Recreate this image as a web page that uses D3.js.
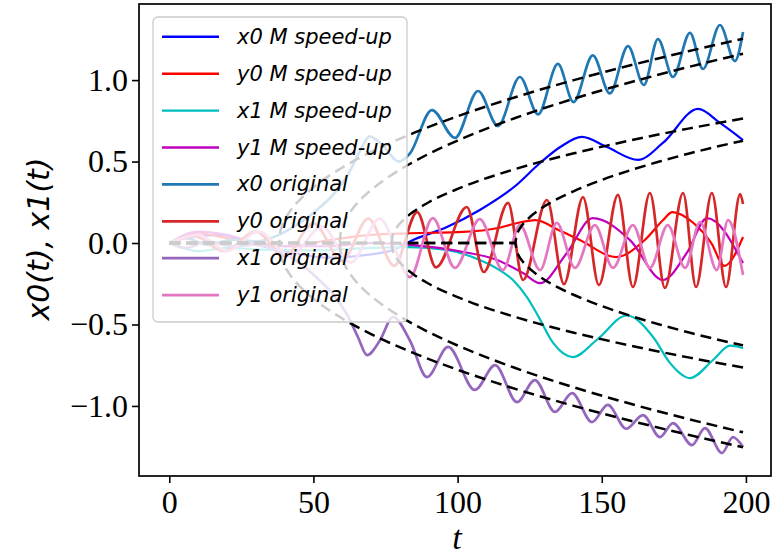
<!DOCTYPE html>
<html>
<head>
<meta charset="utf-8">
<script src="https://cdn.jsdelivr.net/npm/d3@7"></script>
<style>
  body { margin: 0; background: #fff; }
</style>
</head>
<body>
<script>
// values as [t, value] pairs (extrema + a few in-between points)
const x0Speed = [[0,0],[8,0.04],[18,0.05],[28,0.0],[40,-0.05],[55,-0.09],[70,-0.07],[78,-0.04],[83.5,0.01],[96.3,0.098],[107.7,0.203],[120,0.35],[128.6,0.491],[135.6,0.589],[143.1,0.651],[151.8,0.589],[162.6,0.51],[171.2,0.614],[183.4,0.823],[191,0.737],[199,0.632]]
const y0Speed = [[0,0],[10,0.06],[20,0.03],[30,0],[42,-0.02],[56,0.02],[70,0.05],[83.5,0.06],[102,0.068],[114,0.092],[120,0.12],[127,0.14],[135,0.08],[142.4,0.018],[155,-0.086],[165,0.02],[171.2,0.14],[174.5,0.19],[182,0.12],[188,0.0],[192.5,-0.14],[199,0.037]]
const x1Speed = [[0,0],[10,-0.05],[20,-0.03],[32,-0.04],[50,-0.045],[70,-0.03],[83.5,-0.025],[96.3,-0.043],[107.7,-0.104],[114,-0.16],[119.2,-0.227],[124,-0.33],[128,-0.45],[133,-0.61],[140,-0.70],[148.3,-0.595],[158.7,-0.445],[167.8,-0.577],[173.7,-0.737],[180.6,-0.829],[188.6,-0.718],[194.5,-0.63],[199,-0.645]]
const y1Speed = [[0,0],[10,0.07],[20,0.05],[35,-0.02],[55,-0.02],[70,0.0],[83.5,-0.012],[102,-0.055],[113.7,-0.104],[122.7,-0.184],[128.6,-0.246],[137.9,-0.061],[146.9,0.153],[159.8,0.018],[171.2,-0.227],[179.5,-0.061],[186.5,0.153],[199,-0.123]]

const x0Orig = [[0,0],[6,0.03],[13,-0.01],[22,0.02],[30,0.01],[38,0.05],[45,0.12],[51,0.2],[57,0.3],[62,0.42],[66,0.56],[69.5,0.655],[74,0.6],[79.5,0.5],[83.5,0.55],[91.1,0.816],[99.1,0.645],[107.1,0.933],[114,0.718],[121.6,1.019],[127.9,0.79],[134.8,1.099],[140.2,0.865],[146.9,1.152],[152.8,0.918],[159.1,1.209],[164.6,0.97],[169.5,1.252],[174.7,1.019],[180.6,1.29],[185.1,1.068],[191,1.338],[196.2,1.117],[199,1.295]]
const y0Orig = [[0,0],[9,0.04],[19,-0.05],[30,0.07],[40,-0.08],[50,0.12],[60,-0.11],[69,0.15],[78,-0.14],[86,0.19],[92.5,-0.15],[103.2,0.221],[109.1,-0.178],[117.5,0.246],[122.7,-0.227],[131,0.264],[136.9,-0.252],[143.5,0.282],[149,-0.258],[155.6,0.295],[160.8,-0.27],[166.7,0.307],[171.9,-0.276],[178.2,0.307],[182.7,-0.27],[188.2,0.307],[193.1,-0.27],[198,0.3],[199,0.24]]
const x1Orig = [[0,0],[6,-0.03],[13,0.01],[22,-0.02],[30,-0.01],[38,-0.05],[45,-0.12],[51,-0.21],[57,-0.32],[62,-0.45],[65.5,-0.58],[68.6,-0.688],[73,-0.6],[77.6,-0.454],[83.5,-0.6],[89.4,-0.823],[96.7,-0.638],[106,-0.902],[113,-0.749],[120.6,-0.976],[126.8,-0.841],[133.8,-1.037],[139.7,-0.921],[146.6,-1.099],[152.1,-0.994],[158.5,-1.14],[164.3,-1.056],[170.2,-1.191],[174.7,-1.105],[181.3,-1.24],[185.8,-1.136],[191.7,-1.289],[195.5,-1.191],[199,-1.252]]
const y1Orig = [[0,0],[10,0.05],[20,-0.05],[31,0.07],[42,-0.08],[53,0.1],[63,-0.12],[73,0.15],[83.5,-0.209],[91.4,0.153],[99.1,-0.153],[107.7,0.147],[115.7,-0.166],[121.6,0.11],[128.6,-0.166],[134.4,0.123],[140.7,-0.153],[147.6,0.11],[153.9,-0.153],[160.8,0.11],[166.7,-0.153],[172.9,0.11],[178.9,-0.153],[184.1,0.129],[189.9,-0.166],[193.8,0.141],[199,-0.196]]

// dashed envelope curves
const envOuterUp = [[0,0],[38,0],[38.5,0.07],[39,0.099],[40,0.14],[42,0.198],[46,0.279],[50,0.342],[60,0.463],[70,0.559],[85,0.677],[100,0.778],[120,0.895],[140,0.998],[160,1.091],[180,1.177],[199,1.254]]
const envInnerUp = [[0,0],[59,0],[59.5,0.069],[60,0.098],[61,0.139],[63,0.196],[67,0.278],[71,0.34],[80,0.45],[85,0.501],[100,0.629],[120,0.767],[140,0.884],[160,0.987],[180,1.08],[199,1.162]]
const envSpeedUp1 = [[0,0],[77,0],[77.5,0.049],[78,0.069],[79,0.098],[81,0.138],[85,0.196],[90,0.25],[100,0.332],[120,0.454],[140,0.549],[160,0.63],[180,0.702],[199,0.764]]
const envSpeedUp2 = [[0,0],[120,0],[120.5,0.05],[121,0.071],[122,0.1],[124,0.141],[128,0.2],[135,0.274],[140,0.316],[150,0.387],[160,0.447],[170,0.5],[180,0.548],[190,0.592],[199,0.628]]
const envOuterDn = [[0,0],[38,0],[38.5,-0.07],[39,-0.099],[40,-0.14],[42,-0.198],[46,-0.279],[50,-0.342],[60,-0.463],[70,-0.559],[85,-0.677],[100,-0.778],[120,-0.895],[140,-0.998],[160,-1.091],[180,-1.177],[199,-1.254]]
const envInnerDn = [[0,0],[59,0],[59.5,-0.069],[60,-0.098],[61,-0.139],[63,-0.196],[67,-0.278],[71,-0.34],[80,-0.45],[85,-0.501],[100,-0.629],[120,-0.767],[140,-0.884],[160,-0.987],[180,-1.08],[199,-1.162]]
const envSpeedDn1 = [[0,0],[77,0],[77.5,-0.049],[78,-0.069],[79,-0.098],[81,-0.138],[85,-0.196],[90,-0.25],[100,-0.332],[120,-0.454],[140,-0.549],[160,-0.63],[180,-0.702],[199,-0.764]]
const envSpeedDn2 = [[0,0],[120,0],[120.5,-0.05],[121,-0.071],[122,-0.1],[124,-0.141],[128,-0.2],[135,-0.274],[140,-0.316],[150,-0.387],[160,-0.447],[170,-0.5],[180,-0.548],[190,-0.592],[199,-0.628]]

const xTicks = [0, 50, 100, 150, 200]
const yTicks = [-1.0, -0.5, 0.0, 0.5, 1.0]
const labels = ['x0 M speed-up', 'y0 M speed-up', 'x1 M speed-up', 'y1 M speed-up',
                'x0 original', 'y0 original', 'x1 original', 'y1 original']
const colors = ['#0000ff', '#ff0000', '#00bfbf', '#bf00bf', '#1f77b4', '#d62728', '#9467bd', '#e377c2']

const series = [x0Speed, y0Speed, x1Speed, y1Speed, x0Orig, y0Orig, x1Orig, y1Orig]
const envelopes = [envOuterUp, envInnerUp, envSpeedUp1, envSpeedUp2, envOuterDn, envInnerDn, envSpeedDn1, envSpeedDn2]

const width = 772
const height = 556
const d3 = window.d3

const svg = d3.select('body').append('svg')
  .attr('width', width)
  .attr('height', height)

const x = d3.scaleLinear().domain([-10.5, 208.7]).range([139, 771])
const y = d3.scaleLinear().domain([-1.43, 1.467]).range([476, 4])

svg.append('clipPath').attr('id', 'plot')
  .append('rect')
  .attr('x', 139).attr('y', 4).attr('width', 632).attr('height', 472)

var line = d3.line()
  .x(function(d) { return x(d[0]) })
  .y(function(d) { return y(d[1]) })
  .curve(d3.curveMonotoneX)

const g = svg.append('g').attr('clip-path', 'url(#plot)')

g.selectAll('.series')
  .data(series)
  .enter().append('path')
    .attr('class', 'series')
    .attr('d', line)
    .attr('fill', 'none')
    .attr('stroke', function(d, i) { return colors[i] })
    .attr('stroke-width', function(d, i) { return i < 4 ? 2.2 : 2.7 })
    .attr('stroke-linejoin', 'round')

g.selectAll('.env')
  .data(envelopes)
  .enter().append('path')
    .attr('class', 'env')
    .attr('d', line)
    .attr('fill', 'none')
    .attr('stroke', '#000')
    .attr('stroke-width', 2.5)
    .attr('stroke-dasharray', '11,6')

// axes
const fmt = function(d) { return d < 0 ? '\u2212' + Math.abs(d).toFixed(1) : d.toFixed(1) }

const yAxis = svg.append('g')
  .attr('transform', 'translate(139,0)')
  .call(d3.axisLeft(y).tickValues(yTicks).tickSize(7).tickPadding(4).tickFormat(fmt))
const xAxis = svg.append('g')
  .attr('transform', 'translate(0,476)')
  .call(d3.axisBottom(x).tickValues(xTicks).tickSize(7).tickPadding(7).tickFormat(d3.format('d')))

;[xAxis, yAxis].forEach(function(a) {
  a.select('.domain').remove()
  a.selectAll('line').attr('stroke', '#000').attr('stroke-width', 1.6)
  a.selectAll('text')
    .attr('fill', '#000')
    .style('font-family', '"Liberation Serif", "DejaVu Serif", serif')
    .style('font-size', '32px')
})

svg.append('rect')
  .attr('x', 139).attr('y', 4).attr('width', 632).attr('height', 472)
  .attr('fill', 'none')
  .attr('stroke', '#000')
  .attr('stroke-width', 1.7)

svg.append('text')
  .attr('transform', 'translate(49,239) rotate(-90)')
  .attr('text-anchor', 'middle')
  .style('font-family', '"DejaVu Sans", sans-serif')
  .style('font-style', 'italic')
  .style('font-size', '30px')
  .text('x0(t), x1(t)')

svg.append('text')
  .attr('x', 457).attr('y', 549)
  .attr('text-anchor', 'middle')
  .style('font-family', '"Liberation Serif", serif')
  .style('font-style', 'italic')
  .style('font-size', '34px')
  .text('t')

// legend
const legend = svg.append('g')
legend.append('rect')
  .attr('x', 153).attr('y', 17).attr('width', 254).attr('height', 305)
  .attr('rx', 5)
  .attr('fill', '#fff').attr('fill-opacity', 0.8)
  .attr('stroke', '#cccccc').attr('stroke-width', 1.3)

const item = legend.selectAll('.item')
  .data(labels)
  .enter().append('g')
    .attr('class', 'item')
    .attr('transform', function(d, i) { return 'translate(0,' + (36.8 + i * 36.9) + ')' })

item.append('line')
  .attr('x1', 162).attr('x2', 219)
  .attr('stroke', function(d, i) { return colors[i] })
  .attr('stroke-width', function(d, i) { return i < 4 ? 2.4 : 2.8 })

item.append('text')
  .attr('x', 237).attr('y', 7)
  .style('font-family', '"DejaVu Sans", sans-serif')
  .style('font-style', 'italic')
  .style('font-size', '21px')
  .text(function(d) { return d })
</script>
</body>
</html>
